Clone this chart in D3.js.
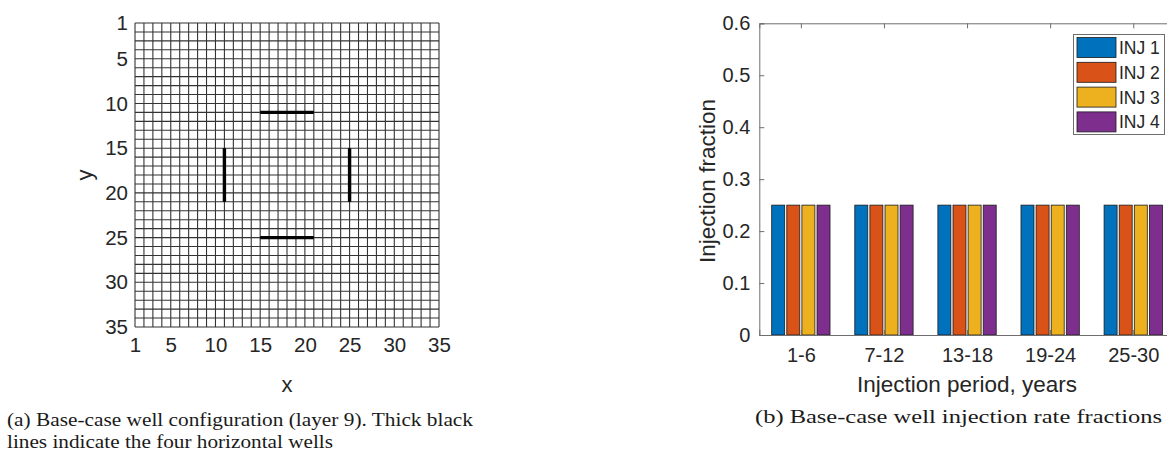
<!DOCTYPE html>
<html>
<head>
<meta charset="utf-8">
<script src="https://cdn.jsdelivr.net/npm/d3@7"></script>
<style>
  body { margin: 0; background: #fff; }
  svg { display: block; }
  .tick text { font-family: "Liberation Sans", Arial, sans-serif; fill: #262626; }
</style>
</head>
<body>
<div id="chart"></div>
<script>
// left panel: grid and wells
var gridTicks = [1, 5, 10, 15, 20, 25, 30, 35];
var wellsX1 = [15, 11, 25, 15];
var wellsY1 = [11, 15, 15, 25];
var wellsX2 = [21, 11, 25, 21];
var wellsY2 = [11, 21, 21, 25];

// right panel: injection fractions
var periods = ['1-6', '7-12', '13-18', '19-24', '25-30'];
var injNames = ['INJ 1', 'INJ 2', 'INJ 3', 'INJ 4'];
var inj1 = [0.25, 0.25, 0.25, 0.25, 0.25];
var inj2 = [0.25, 0.25, 0.25, 0.25, 0.25];
var inj3 = [0.25, 0.25, 0.25, 0.25, 0.25];
var inj4 = [0.25, 0.25, 0.25, 0.25, 0.25];
var yTicks = [0, 0.1, 0.2, 0.3, 0.4, 0.5, 0.6];
var colors = ['#0072BD', '#D95319', '#EDB120', '#7E2F8E'];

var width = 1167, height = 452;
var svg = d3.select('#chart').append('svg')
    .attr('width', width)
    .attr('height', height);

drawGrid();
drawBars();
drawCaptions();

function drawGrid() {
    var x = d3.scaleLinear().domain([1, 35]).range([135, 439]);
    var y = d3.scaleLinear().domain([1, 35]).range([23, 327]);
    var g = svg.append('g');
    var lines = d3.range(1, 36);

    g.selectAll('.vl').data(lines).enter().append('line')
        .attr('x1', function(d) { return x(d); })
        .attr('x2', function(d) { return x(d); })
        .attr('y1', y(1)).attr('y2', y(35))
        .attr('stroke', '#333').attr('stroke-width', 1.1);
    g.selectAll('.hl').data(lines).enter().append('line')
        .attr('y1', function(d) { return y(d); })
        .attr('y2', function(d) { return y(d); })
        .attr('x1', x(1)).attr('x2', x(35))
        .attr('stroke', '#333').attr('stroke-width', 1.1);

    var wells = wellsX1.map(function(d, i) {
        return { x1: d, y1: wellsY1[i], x2: wellsX2[i], y2: wellsY2[i] };
    });
    g.selectAll('.well').data(wells).enter().append('line')
        .attr('x1', function(d) { return x(d.x1); })
        .attr('y1', function(d) { return y(d.y1); })
        .attr('x2', function(d) { return x(d.x2); })
        .attr('y2', function(d) { return y(d.y2); })
        .attr('stroke', '#000').attr('stroke-width', 3.4);

    var ax = g.append('g').attr('transform', 'translate(0,' + y(35) + ')')
        .call(d3.axisBottom(x).tickValues(gridTicks).tickSize(0).tickPadding(10));
    ax.select('.domain').remove();
    ax.selectAll('text').style('font-size', '20.5px');

    var ay = g.append('g').attr('transform', 'translate(' + x(1) + ',0)')
        .call(d3.axisLeft(y).tickValues(gridTicks).tickSize(0).tickPadding(7));
    ay.select('.domain').remove();
    ay.selectAll('text').style('font-size', '20.5px');

    g.append('text').attr('x', 287).attr('y', 392)
        .attr('text-anchor', 'middle')
        .style('font-family', '"Liberation Sans", Arial, sans-serif')
        .style('font-size', '22px').style('fill', '#262626')
        .text('x');
    g.append('text')
        .attr('transform', 'translate(92,175) rotate(-90)')
        .attr('text-anchor', 'middle')
        .style('font-family', '"Liberation Sans", Arial, sans-serif')
        .style('font-size', '22px').style('fill', '#262626')
        .text('y');
}

function drawBars() {
    var x = d3.scaleLinear().domain([0.5, 5.5]).range([759.3, 1174.8]);
    var y = d3.scaleLinear().domain([0, 0.6]).range([335, 23.3]);
    var g = svg.append('g');
    var series = [inj1, inj2, inj3, inj4];
    var unit = x(1) - x(0);
    var groupW = unit * 4 / 5.5;
    var slot = groupW / 4;
    var barW = slot * 0.86;

    var sg = g.selectAll('.series').data(series).enter().append('g')
        .attr('fill', function(d, i) { return colors[i]; });
    sg.selectAll('rect').data(function(d, i) {
        return d.map(function(v, j) { return { v: v, j: j, s: i }; });
    }).enter().append('rect')
        .attr('x', function(d) { return x(d.j + 1) - groupW / 2 + d.s * slot + (slot - barW) / 2; })
        .attr('y', function(d) { return y(d.v); })
        .attr('width', barW)
        .attr('height', function(d) { return y(0) - y(d.v); })
        .attr('stroke', '#1a1a1a').attr('stroke-width', 0.8);

    var axisColor = '#6e6e6e';
    // y axis with inward ticks
    var ay = g.append('g').attr('transform', 'translate(' + x(0.5) + ',0)')
        .call(d3.axisLeft(y).tickValues(yTicks).tickSize(-5).tickPadding(9)
            .tickFormat(function(d) { return d === 0 ? '0' : d3.format('.1f')(d); }));
    ay.select('.domain').attr('stroke', axisColor);
    ay.selectAll('.tick line').attr('stroke', axisColor);
    ay.selectAll('text').style('font-size', '20px');

    var ax = g.append('g').attr('transform', 'translate(0,' + y(0) + ')')
        .call(d3.axisBottom(x).tickValues([1, 2, 3, 4, 5]).tickSize(-5).tickPadding(13)
            .tickFormat(function(d) { return periods[d - 1]; }));
    ax.select('.domain').attr('stroke', axisColor);
    ax.selectAll('.tick line').attr('stroke', axisColor);
    ax.selectAll('text').style('font-size', '20px');

    var top = g.append('g').attr('transform', 'translate(0,' + y(0.6) + ')')
        .call(d3.axisTop(x).tickValues([1, 2, 3, 4, 5]).tickSize(-5).tickFormat(''));
    top.select('.domain').attr('stroke', axisColor);
    top.selectAll('.tick line').attr('stroke', axisColor);

    g.append('text').attr('x', 967).attr('y', 392)
        .attr('text-anchor', 'middle')
        .style('font-family', '"Liberation Sans", Arial, sans-serif')
        .style('font-size', '22.5px').style('fill', '#262626')
        .text('Injection period, years');
    g.append('text')
        .attr('transform', 'translate(715,181) rotate(-90)')
        .attr('text-anchor', 'middle')
        .style('font-family', '"Liberation Sans", Arial, sans-serif')
        .style('font-size', '22.5px').style('fill', '#262626')
        .text('Injection fraction');

    // legend
    var lg = g.append('g');
    lg.append('rect').attr('x', 1073.5).attr('y', 34.5).attr('width', 91).attr('height', 100)
        .attr('fill', '#fff').attr('stroke', '#6e6e6e').attr('stroke-width', 1);
    var items = lg.selectAll('.item').data(injNames).enter().append('g')
        .attr('transform', function(d, i) { return 'translate(0,' + (47.5 + i * 24.8) + ')'; });
    items.append('rect').attr('x', 1077).attr('y', -10).attr('width', 39).attr('height', 20)
        .attr('fill', function(d, i) { return colors[i]; })
        .attr('stroke', '#1a1a1a').attr('stroke-width', 0.8);
    items.append('text').attr('x', 1119).attr('y', 6.5)
        .style('font-family', '"Liberation Sans", Arial, sans-serif')
        .style('font-size', '17.5px').style('fill', '#262626')
        .text(function(d) { return d; });
}

function drawCaptions() {
    var cap = [
        { x: 7, y: 426, w: 466, t: '(a) Base-case well configuration (layer 9). Thick black' },
        { x: 7, y: 448, w: 326, t: 'lines indicate the four horizontal wells' },
        { x: 755, y: 423, w: 407, t: '(b) Base-case well injection rate fractions' }
    ];
    svg.selectAll('.cap').data(cap).enter().append('text')
        .attr('x', function(d) { return d.x; })
        .attr('y', function(d) { return d.y; })
        .attr('textLength', function(d) { return d.w; })
        .attr('lengthAdjust', 'spacingAndGlyphs')
        .style('font-family', '"Liberation Serif", "DejaVu Serif", serif')
        .style('font-size', '18.5px').style('fill', '#1a1a1a')
        .text(function(d) { return d.t; });
}
</script>
</body>
</html>
